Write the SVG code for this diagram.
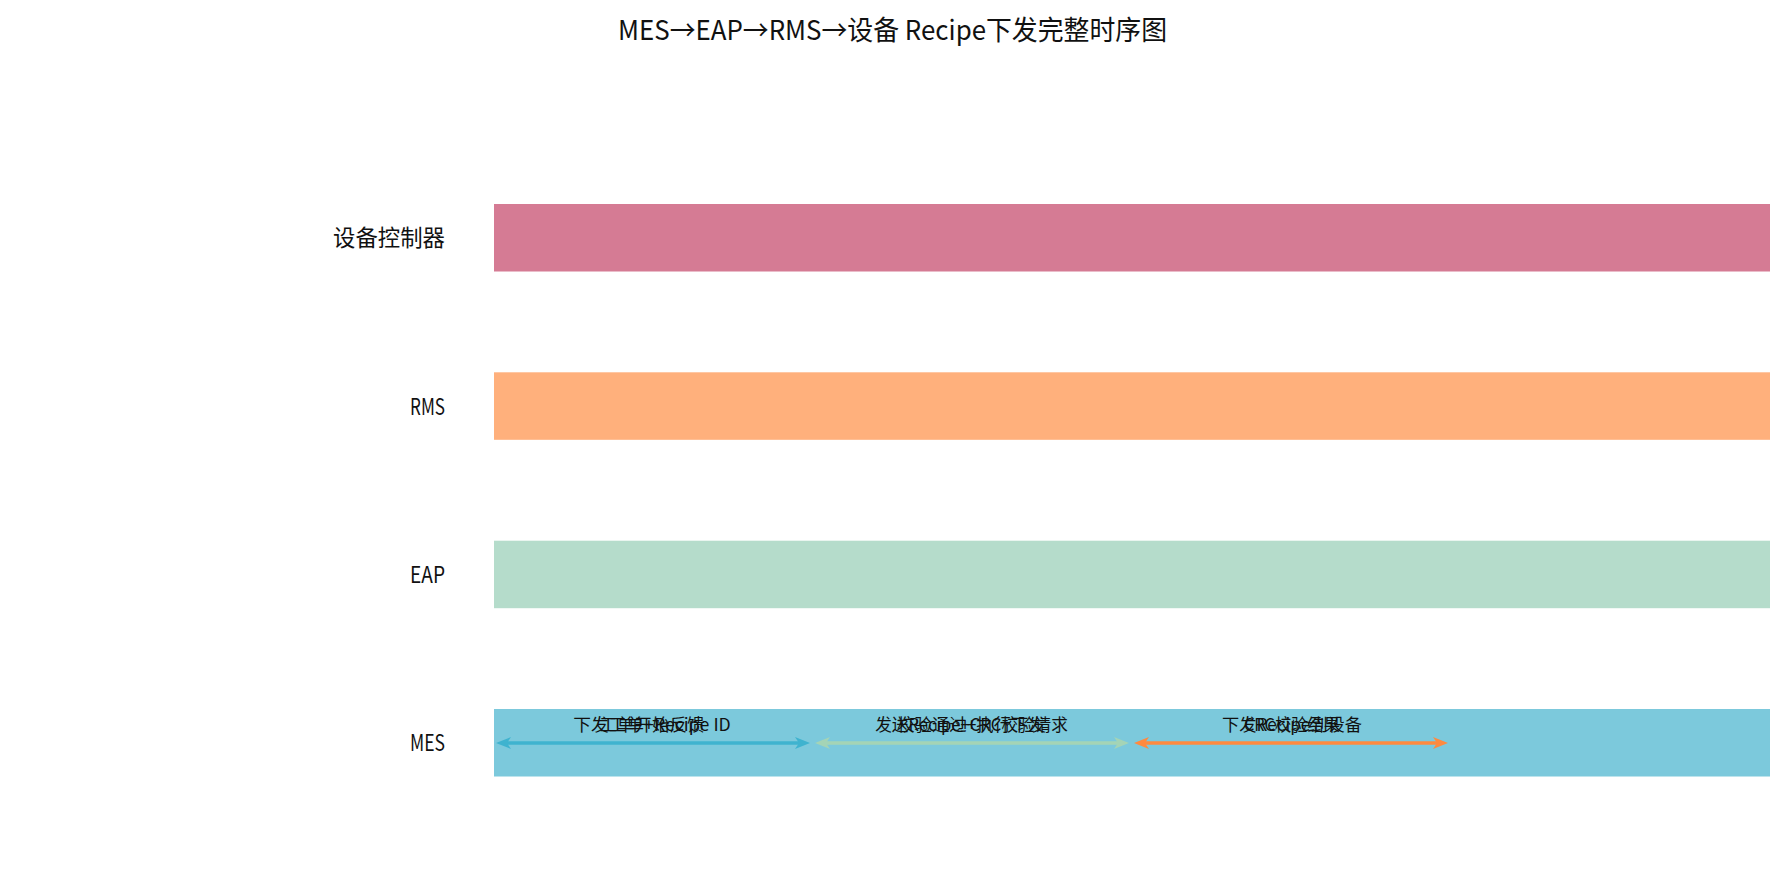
<svg xmlns="http://www.w3.org/2000/svg" width="1785" height="885" viewBox="0 0 1785 885">
<style>
text{font-family:"Noto Sans CJK SC","Liberation Sans",sans-serif;fill:#111}
.title{font-size:27.5px}
.lane{font-size:22.4px;text-anchor:end}
.msg{font-size:17.5px;text-anchor:middle}
.arr{fill:none;stroke-width:3.6}
</style>
<defs>
<marker id="mc" markerUnits="userSpaceOnUse" viewBox="-6 -7 17 14" refX="0" refY="0" markerWidth="17" markerHeight="14" orient="auto-start-reverse"><path d="M10,0 L-5,-6 L-1,0 L-5,6 Z" fill="#3FB3CF"/></marker>
<marker id="mg" markerUnits="userSpaceOnUse" viewBox="-6 -7 17 14" refX="0" refY="0" markerWidth="17" markerHeight="14" orient="auto-start-reverse"><path d="M10,0 L-5,-6 L-1,0 L-5,6 Z" fill="#A4D4B6"/></marker>
<marker id="mo" markerUnits="userSpaceOnUse" viewBox="-6 -7 17 14" refX="0" refY="0" markerWidth="17" markerHeight="14" orient="auto-start-reverse"><path d="M10,0 L-5,-6 L-1,0 L-5,6 Z" fill="#FF8A3F"/></marker>
</defs>
<rect width="1785" height="885" fill="#fff"/>
<text class="title" x="892.5" y="39.5" textLength="549" lengthAdjust="spacingAndGlyphs" text-anchor="middle">MES→EAP→RMS→设备 Recipe下发完整时序图</text>
<g id="lane-device">
<rect x="494" y="204" width="1276" height="67.5" fill="#D57B94"/>
<text class="lane" x="445" y="246.3" textLength="112" lengthAdjust="spacingAndGlyphs">设备控制器</text>
</g>
<g id="lane-rms">
<rect x="494" y="372.3" width="1276" height="67.5" fill="#FFB07C"/>
<text class="lane" x="445" y="414.5" textLength="35" lengthAdjust="spacingAndGlyphs">RMS</text>
</g>
<g id="lane-eap">
<rect x="494" y="540.7" width="1276" height="67.5" fill="#B5DCCB"/>
<text class="lane" x="445" y="582.9" textLength="35" lengthAdjust="spacingAndGlyphs">EAP</text>
</g>
<g id="lane-mes">
<rect x="494" y="709" width="1276" height="67.5" fill="#7CC9DC"/>
<text class="lane" x="445" y="751.2" textLength="35" lengthAdjust="spacingAndGlyphs">MES</text>
</g>
<g id="connectors">
<line class="arr" x1="506" y1="743" x2="800" y2="743" stroke="#3FB3CF" marker-start="url(#mc)" marker-end="url(#mc)"/>
<line class="arr" x1="825" y1="743" x2="1119" y2="743" stroke="#A4D4B6" marker-start="url(#mg)" marker-end="url(#mg)"/>
<line class="arr" x1="1144" y1="743" x2="1438" y2="743" stroke="#FF8A3F" stroke-width="4" marker-start="url(#mo)" marker-end="url(#mo)"/>
<text class="msg" x="652" y="731" textLength="157.5" lengthAdjust="spacingAndGlyphs">下发工单+Recipe ID</text>
<text class="msg" x="652" y="731" textLength="105" lengthAdjust="spacingAndGlyphs">工单开始反馈</text>
<text class="msg" x="971.5" y="731" textLength="192.5" lengthAdjust="spacingAndGlyphs">发送Recipe+CRC校验请求</text>
<text class="msg" x="971.5" y="731" textLength="148.75" lengthAdjust="spacingAndGlyphs">校验通过+执行下发</text>
<text class="msg" x="1292" y="731" textLength="140" lengthAdjust="spacingAndGlyphs">下发Recipe到设备</text>
<text class="msg" x="1292" y="731" textLength="96.25" lengthAdjust="spacingAndGlyphs">CRC校验结果</text>
</g>
</svg>
